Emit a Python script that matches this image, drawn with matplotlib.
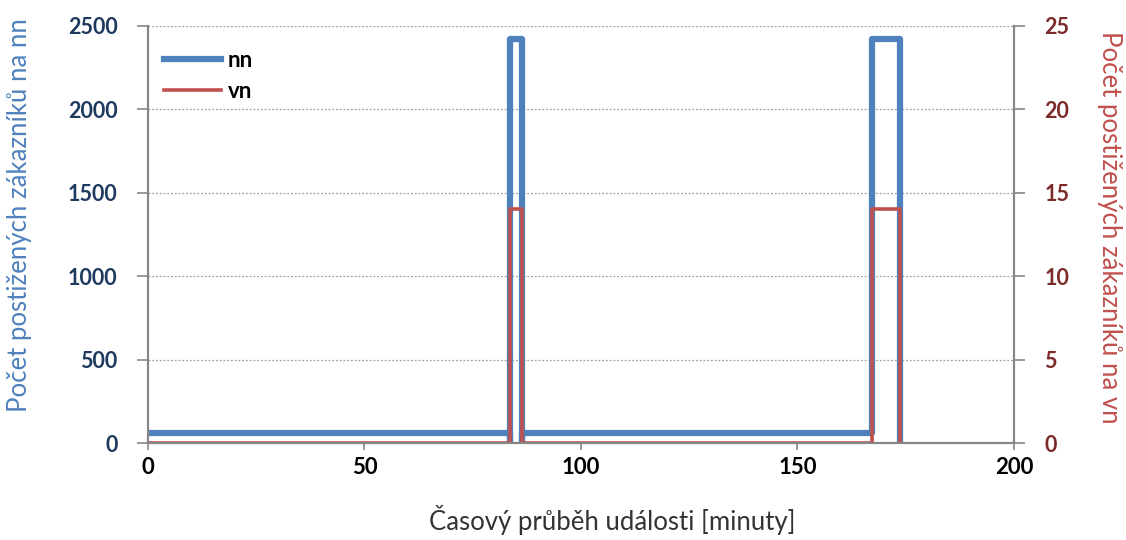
import matplotlib
matplotlib.use("Agg")
import matplotlib.pyplot as plt

plt.rcParams['font.family'] = ['Lato', 'DejaVu Sans']

# data (minutes, customers)
nn_t = [0, 83.7, 83.7, 83.7, 86.5, 86.5, 86.5, 167.2, 167.2, 173.8, 173.8]
nn_v = [60, 60, 0, 2420, 2420, 0, 60, 60, 2420, 2420, 0]
vn_t = [0, 83.7, 83.7, 86.5, 86.5, 167.2, 167.2, 173.8, 173.8]
vn_v = [0, 0, 14, 14, 0, 0, 14, 14, 0]

x_ticks = [0, 50, 100, 150, 200]
nn_ticks = [0, 500, 1000, 1500, 2000, 2500]
vn_ticks = [0, 5, 10, 15, 20, 25]

blue = "#4F81BD"
red = "#C0504D"
gray = "#868686"

fig = plt.figure(figsize=(11.26, 5.4), dpi=100)
ax = fig.add_axes([0.1314, 0.1796, 0.769, 0.7724])
ax2 = ax.twinx()

l1, = ax.plot(nn_t, nn_v, color=blue, lw=4.5, solid_joinstyle='round', label="nn")
l2, = ax2.plot(vn_t, vn_v, color=red, lw=2.6, label="vn")

ax.set_xlim(0, 200)
ax.set_ylim(0, 2500)
ax2.set_ylim(0, 25)
ax.set_xticks(x_ticks)
ax.set_yticks(nn_ticks)
ax2.set_yticks(vn_ticks)

ax.grid(axis='y', color='#a0a0a0', ls=(0, (1.5, 1.5)), lw=0.9)
ax.set_axisbelow(True)

for a in (ax, ax2):
    a.spines['top'].set_visible(False)
    for s in ('left', 'right', 'bottom'):
        a.spines[s].set_color(gray)
        a.spines[s].set_linewidth(1.5)

ax.tick_params(axis='x', direction='out', length=5, width=1.2, color=gray, pad=5,
               labelsize=16, labelcolor='black')
ax.tick_params(axis='y', direction='out', length=8, width=1.2, color=gray, pad=14,
               labelsize=15.5, labelcolor='#1F3A5F')
ax2.tick_params(axis='y', direction='out', length=8, width=1.2, color=gray, pad=14,
                labelsize=15.5, labelcolor='#7B2C2A')
for lab in ax.get_xticklabels() + ax.get_yticklabels() + ax2.get_yticklabels():
    lab.set_fontweight('bold')

ax.set_xlabel("Časový průběh události [minuty]", fontsize=18.5, color='#333333',
              va='center', ha='center')
ax.set_ylabel("Počet postižených zákazníků na nn", fontsize=18.5, color=blue,
              va='center', ha='center')
ax2.set_ylabel("Počet postižených zákazníků na vn", fontsize=18.5, color=red,
               rotation=270, va='center', ha='center')
ax.xaxis.set_label_coords(0.536, -0.185)
ax.yaxis.set_label_coords(-0.148, 0.547)
ax2.yaxis.set_label_coords(1.111, 0.516)

leg = ax.legend(handles=[l1, l2], loc='upper left', frameon=False, handlelength=2.6,
                fontsize=16, borderaxespad=0.3, labelspacing=0.45, handletextpad=0.3,
                bbox_to_anchor=(0.0, 0.98))
for t in leg.get_texts():
    t.set_fontweight('bold')
leg.get_lines()[1].set_linewidth(2.6)

fig.savefig("out.png", dpi=100)
